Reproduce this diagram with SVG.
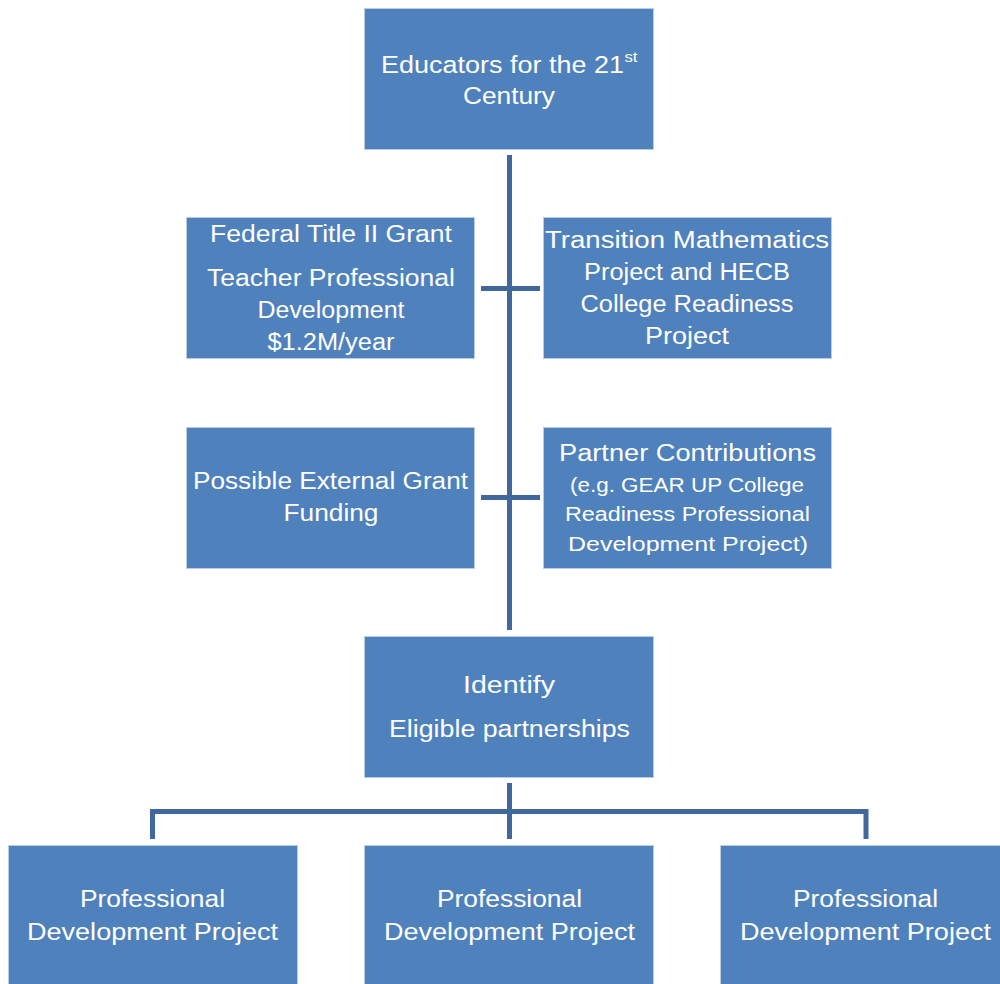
<svg xmlns="http://www.w3.org/2000/svg" width="1000" height="984" viewBox="0 0 1000 984">
<style>
.box{fill:#4F81BD;stroke:#B9CDE5;stroke-width:1}
.t{font-family:"Liberation Sans",Arial,sans-serif;font-size:23px;fill:#FFFFFF;text-anchor:middle}
.s{font-size:20px}
.c{stroke:#41689C;stroke-width:5;fill:none}
</style>
<rect width="1000" height="984" fill="#FFFFFF"/>
<g id="connectors">
<line class="c" x1="509.5" y1="155" x2="509.5" y2="630"/>
<line class="c" x1="481" y1="288.5" x2="540" y2="288.5"/>
<line class="c" x1="481" y1="497.5" x2="540" y2="497.5"/>
<line class="c" x1="509.5" y1="783" x2="509.5" y2="839"/>
<polyline class="c" points="152.5,839 152.5,811.5 866,811.5 866,839"/>
</g>
<g id="n-educators">
<rect class="box" x="364.5" y="8.5" width="289" height="141"/>
<text class="t" x="502.5" y="73" textLength="243" lengthAdjust="spacingAndGlyphs">Educators for the 21</text>
<text class="t" x="631" y="62" style="font-size:15px" textLength="13" lengthAdjust="spacingAndGlyphs">st</text>
<text class="t" x="509" y="104" textLength="92" lengthAdjust="spacingAndGlyphs">Century</text>
</g>
<g id="n-federal">
<rect class="box" x="186.5" y="217.5" width="288" height="141"/>
<text class="t" x="331" y="242" textLength="242" lengthAdjust="spacingAndGlyphs">Federal Title II Grant</text>
<text class="t" x="331" y="286" textLength="248" lengthAdjust="spacingAndGlyphs">Teacher Professional</text>
<text class="t" x="331" y="318" textLength="147" lengthAdjust="spacingAndGlyphs">Development</text>
<text class="t" x="331" y="350" textLength="127" lengthAdjust="spacingAndGlyphs">$1.2M/year</text>
</g>
<g id="n-transition">
<rect class="box" x="543.5" y="217.5" width="288" height="141"/>
<text class="t" x="687" y="248" textLength="284" lengthAdjust="spacingAndGlyphs">Transition Mathematics</text>
<text class="t" x="687" y="280" textLength="206" lengthAdjust="spacingAndGlyphs">Project and HECB</text>
<text class="t" x="687" y="312" textLength="213" lengthAdjust="spacingAndGlyphs">College Readiness</text>
<text class="t" x="687" y="344" textLength="84" lengthAdjust="spacingAndGlyphs">Project</text>
</g>
<g id="n-external">
<rect class="box" x="186.5" y="427.5" width="288" height="141"/>
<text class="t" x="330.5" y="489" textLength="275" lengthAdjust="spacingAndGlyphs">Possible External Grant</text>
<text class="t" x="331" y="521" textLength="95" lengthAdjust="spacingAndGlyphs">Funding</text>
</g>
<g id="n-partner">
<rect class="box" x="543.5" y="427.5" width="288" height="141"/>
<text class="t" x="687.5" y="461" textLength="257" lengthAdjust="spacingAndGlyphs">Partner Contributions</text>
<text class="t s" x="687" y="492" textLength="234" lengthAdjust="spacingAndGlyphs">(e.g. GEAR UP College</text>
<text class="t s" x="687.5" y="521" textLength="245" lengthAdjust="spacingAndGlyphs">Readiness Professional</text>
<text class="t s" x="688" y="551" textLength="240" lengthAdjust="spacingAndGlyphs">Development Project)</text>
</g>
<g id="n-identify">
<rect class="box" x="364.5" y="636.5" width="289" height="141"/>
<text class="t" x="509" y="693" textLength="92" lengthAdjust="spacingAndGlyphs">Identify</text>
<text class="t" x="509.5" y="737" textLength="241" lengthAdjust="spacingAndGlyphs">Eligible partnerships</text>
</g>
<g id="n-pdp1">
<rect class="box" x="8.5" y="845.5" width="289" height="141"/>
<text class="t" x="152.5" y="907" textLength="145" lengthAdjust="spacingAndGlyphs">Professional</text>
<text class="t" x="152.5" y="940" textLength="251" lengthAdjust="spacingAndGlyphs">Development Project</text>
</g>
<g id="n-pdp2">
<rect class="box" x="364.5" y="845.5" width="289" height="141"/>
<text class="t" x="509.5" y="907" textLength="145" lengthAdjust="spacingAndGlyphs">Professional</text>
<text class="t" x="509.5" y="940" textLength="251" lengthAdjust="spacingAndGlyphs">Development Project</text>
</g>
<g id="n-pdp3">
<rect class="box" x="720.5" y="845.5" width="289" height="141"/>
<text class="t" x="865.5" y="907" textLength="145" lengthAdjust="spacingAndGlyphs">Professional</text>
<text class="t" x="865.5" y="940" textLength="251" lengthAdjust="spacingAndGlyphs">Development Project</text>
</g>
</svg>
